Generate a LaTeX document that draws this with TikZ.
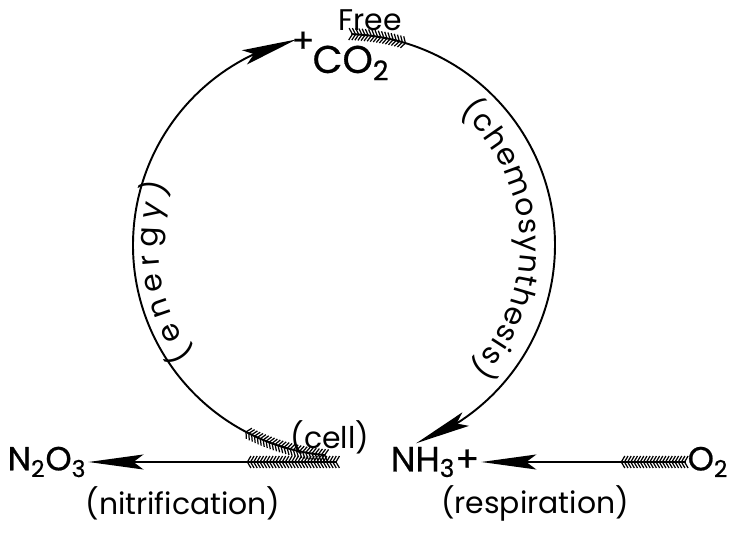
\documentclass[tikz,border=0pt]{standalone}
\usepackage{fontspec}
\newfontfamily\handfont{Poppins}
\newfontfamily\chemfont[FakeBold=0.7]{Poppins}
\usetikzlibrary{arrows.meta,bending,decorations.markings,decorations.text}

\begin{document}
\begin{tikzpicture}[x=0.02cm, y=0.02cm,
    >={Stealth[length=11mm, width=3mm, inset=2mm]},
    chem/.style={font=\chemfont\fontsize{19}{21}\selectfont, inner sep=1pt},
    note/.style={font=\handfont\fontsize{17}{19}\selectfont, inner sep=1pt},
    cycle line/.style={line width=1.1pt},
    feathered/.style={postaction={decorate, decoration={markings,
        mark=between positions 0 and #1 step 1.8pt with
        {\draw[-, line width=0.7pt] (-1.4pt,-3.4pt) -- (0.6pt,0pt) -- (-1.4pt,3.4pt);}}}},
    feathered/.default=1.3cm]
    \useasboundingbox (0,0) rectangle (731,535);

    % 1. Tâm và điểm đầu của các cung
    \coordinate (ctr) at (344,290);
    \path (ctr) ++(265:211) coordinate (etail);
    \path (ctr) ++(88:211) coordinate (ctail);
    \coordinate (ntail) at (337,73);

    % 2. Các chất
    \node[chem, font=\chemfont\fontsize{22}{24}\selectfont] (co2) at (351,472) {CO\textsubscript{2}};
    \node[note] (free) at (370,515) {Free};
    \node[chem] (plus) at (303,493) {+};
    \node[chem, font=\chemfont\fontsize{20}{22}\selectfont] (nh3) at (435,73) {NH\textsubscript{3}+};
    \node[chem] (n2o3) at (47,73) {N\textsubscript{2}O\textsubscript{3}};
    \node[chem] (o2) at (708,73) {O\textsubscript{2}};

    % 3. Nhãn
    \node[note] (cell) at (330,98) {(cell)};
    \node[note] (nitrif) at (183,32) {(nitrification)};
    \node[note] (resp) at (535,32) {(respiration)};

    % 4. Mũi tên
    \draw[->, cycle line, feathered=1.7cm] (etail) arc[start angle=265, end angle=103, radius=211];
    \draw[->, cycle line, feathered=1.1cm] (ctail) arc[start angle=88, end angle=-70, radius=211];
    \draw[->, cycle line, feathered=1.8cm] (ntail) -- (n2o3.east);
    \draw[->, cycle line, feathered=1.3cm] (o2.west) -- (nh3.east);

    % 5. Chữ dọc theo cung
    \path[decorate, decoration={text along path, text align={fit to path},
        text={|\handfont\fontsize{17}{19}\selectfont|(energy)}}]
        (ctr) ++(216:186) arc[start angle=216, end angle=161, radius=186];
    \path[decorate, decoration={text along path, text align={fit to path},
        text={|\handfont\fontsize{17}{19}\selectfont|(chemosynthesis)}}]
        (ctr) ++(49:176) arc[start angle=49, end angle=-44, radius=176];
\end{tikzpicture}
\end{document}
